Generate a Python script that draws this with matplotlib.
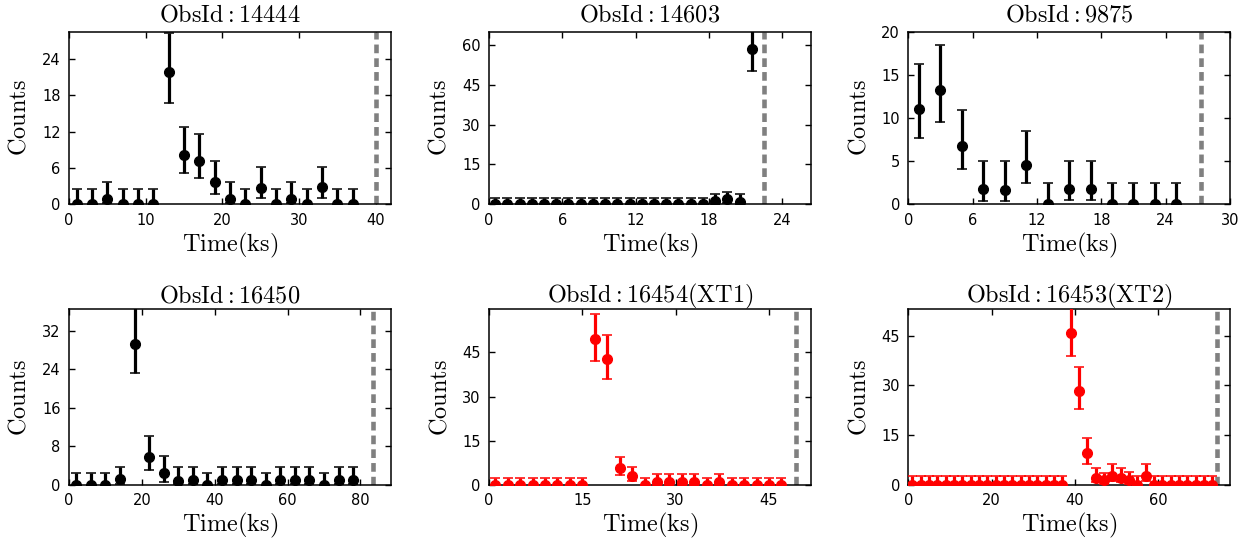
import numpy as np
import matplotlib
matplotlib.use("Agg")
import matplotlib.pyplot as plt

# ==============================================================================
# Light curves of six Chandra observations (counts per bin)
# ==============================================================================

plt.rcParams['mathtext.fontset'] = 'cm'

OBS_IDS = ['14444', '14603', '9875', '16450', '16454(XT1)', '16453(XT2)']

# ObsId 14444
t_14444 = [1, 3, 5, 7, 9, 11, 13, 15, 17, 19, 21, 23, 25, 27, 29, 31, 33, 35, 37]
c_14444 = [0, 0, 0.9, 0, 0, 0, 21.8, 8.2, 7.2, 3.6, 0.8, 0, 2.7, 0, 0.9, 0, 2.8, 0, 0]
lo_14444 = [0, 0, 0.15, 0, 0, 0, 16.8, 5.1, 4.3, 1.65, 0.15, 0, 1.0, 0, 0.15, 0, 1.1, 0, 0]
hi_14444 = [2.5, 2.5, 3.7, 2.5, 2.5, 2.5, 28.3, 12.8, 11.6, 7.2, 3.7, 2.5, 6.1, 2.5, 3.7, 2.5, 6.2, 2.5, 2.5]

# ObsId 14603
t_14603 = [0.5, 1.5, 2.5, 3.5, 4.5, 5.5, 6.5, 7.5, 8.5, 9.5, 10.5, 11.5, 12.5, 13.5,
           14.5, 15.5, 16.5, 17.5, 18.5, 19.5, 20.5, 21.5]
c_14603 = [0] * 18 + [1.2, 2.0, 1.0, 58.3]
lo_14603 = [0] * 18 + [0.2, 0.5, 0.2, 50.1]
hi_14603 = [2.5] * 18 + [3.8, 4.8, 3.8, 67.0]

# ObsId 9875
t_9875 = [1, 3, 5, 7, 9, 11, 13, 15, 17, 19, 21, 23, 25]
c_9875 = [11.1, 13.2, 6.7, 1.75, 1.7, 4.6, 0, 1.8, 1.8, 0, 0, 0, 0]
lo_9875 = [7.7, 9.5, 4.1, 0.4, 0.35, 2.45, 0, 0.5, 0.5, 0, 0, 0, 0]
hi_9875 = [16.2, 18.5, 10.9, 5.0, 5.0, 8.5, 2.5, 5.0, 5.0, 2.5, 2.5, 2.5, 2.5]

# ObsId 16450
t_16450 = [2, 6, 10, 14, 18, 22, 26, 30, 34, 38, 42, 46, 50, 54, 58, 62, 66, 70, 74, 78]
c_16450 = [0, 0, 0, 1.2, 29.2, 5.7, 2.5, 0.9, 1.0, 0, 1.0, 1.0, 1.0, 0, 1.0, 1.0, 1.0, 0, 1.0, 1.0]
lo_16450 = [0, 0, 0, 0.2, 23.3, 3.1, 0.7, 0.15, 0.15, 0, 0.15, 0.15, 0.15, 0, 0.15, 0.15, 0.15, 0, 0.15, 0.15]
hi_16450 = [2.55, 2.55, 2.55, 3.8, 36.6, 10.2, 6.0, 3.7, 3.8, 2.55, 3.8, 3.8, 3.8, 2.55, 3.8, 3.8, 3.8, 2.55, 3.8, 3.8]

# ObsId 16454 (XT1)
t_16454 = [1, 3, 5, 7, 9, 11, 13, 15, 17, 19, 21, 23, 25, 27, 29, 31, 33, 35, 37, 39, 41, 43, 45, 47]
c_16454 = [0] * 8 + [49.4, 42.9, 5.65, 2.9, 0, 1.1, 1.1, 1.1, 1.1, 0, 1.1, 0, 0, 0, 0, 0]
lo_16454 = [0] * 8 + [42.1, 36.1, 3.4, 1.4, 0, 0.15, 0.15, 0.15, 0.15, 0, 0.15, 0, 0, 0, 0, 0]
hi_16454 = [2.5] * 8 + [58.0, 50.9, 9.6, 6.1, 2.5, 3.7, 3.7, 3.7, 3.7, 2.5, 3.7, 2.5, 2.5, 2.5, 2.5, 2.5]

# ObsId 16453 (XT2)
t_16453 = [1, 3, 5, 7, 9, 11, 13, 15, 17, 19, 21, 23, 25, 27, 29, 31, 33, 35, 37,
           39, 41, 43, 45, 47, 49, 51, 53, 55, 57, 59, 61, 63, 65, 67, 69, 71, 73]
c_16453 = [0] * 19 + [45.7, 28.4, 9.5, 2.0, 1.5, 2.7, 2.0, 1.5, 0, 2.8] + [0] * 8
lo_16453 = [0] * 19 + [38.7, 22.9, 6.3, 0.8, 0.4, 1.2, 0.8, 0.4, 0, 1.3] + [0] * 8
hi_16453 = [2.6] * 19 + [53.5, 35.4, 14.3, 5.0, 3.7, 6.2, 5.0, 3.8, 2.6, 6.4] + [2.6] * 8

# end of each observation (ks)
T_END = [40, 22.5, 27.3, 83.5, 49.3, 74]

XLIMS = [42, 26.35, 30, 88.4, 51.75, 77.2]
YLIMS = [28.5, 65, 20, 36.4, 59.6, 52.9]
XTICKS = [np.arange(0, 41, 10), np.arange(0, 25, 6), np.arange(0, 31, 6),
          np.arange(0, 81, 20), np.arange(0, 46, 15), np.arange(0, 61, 20)]
YTICKS = [np.arange(0, 25, 6), np.arange(0, 61, 15), np.arange(0, 21, 5),
          np.arange(0, 33, 8), np.arange(0, 46, 15), np.arange(0, 46, 15)]
COLORS = ['black', 'black', 'black', 'black', 'red', 'red']

DATA = [
    (t_14444, c_14444, lo_14444, hi_14444),
    (t_14603, c_14603, lo_14603, hi_14603),
    (t_9875, c_9875, lo_9875, hi_9875),
    (t_16450, c_16450, lo_16450, hi_16450),
    (t_16454, c_16454, lo_16454, hi_16454),
    (t_16453, c_16453, lo_16453, hi_16453),
]

W, H = 1251, 545
# axes boxes in pixels: left, top, right, bottom
BOXES = [
    (69, 31.7, 391, 204.3), (489, 31.7, 811, 204.3), (908.3, 31.7, 1230, 204.3),
    (69, 309.3, 391, 485), (489, 309.3, 811, 485), (908.3, 309.3, 1230, 485),
]


def draw_panel(ax, i):
    t, c, lo, hi = [np.array(a, dtype=float) for a in DATA[i]]
    yerr = [c - lo, hi - c]
    ax.errorbar(t, c, yerr=yerr, fmt='o', color=COLORS[i], ms=7, mec=COLORS[i],
                elinewidth=2.3, capsize=3.6, capthick=1.1, zorder=3)
    ax.axvline(T_END[i], color='#808080', lw=3.3, ls=(0, (1.9, 1.1)), zorder=2)
    ax.set_xlim(0, XLIMS[i])
    ax.set_ylim(0, YLIMS[i])
    ax.set_xticks(XTICKS[i])
    ax.set_yticks(YTICKS[i])
    ax.tick_params(direction='in', top=True, right=True, length=4, width=1,
                   labelsize=10.5, pad=6)
    for s in ax.spines.values():
        s.set_linewidth(1.1)
    ax.set_title(r'$\mathrm{ObsId:%s}$' % OBS_IDS[i], fontsize=17.5,
                 pad=7 if i < 3 else 5)
    ax.set_xlabel(r'$\mathrm{Time(ks)}$', fontsize=17.5, labelpad=2)
    ax.set_ylabel(r'$\mathrm{Counts}$', fontsize=17.5, labelpad=8)


fig = plt.figure(figsize=(W / 100, H / 100), dpi=100)
for i, (l, tp, r, b) in enumerate(BOXES):
    ax = fig.add_axes([l / W, 1 - b / H, (r - l) / W, (b - tp) / H])
    draw_panel(ax, i)

fig.savefig("out.png", dpi=100)
